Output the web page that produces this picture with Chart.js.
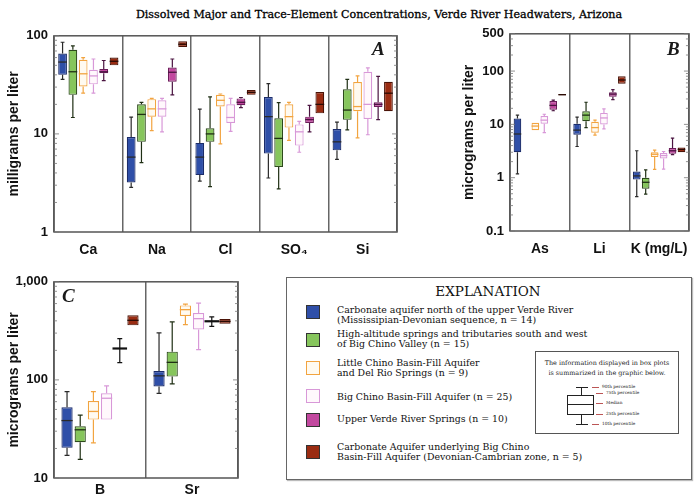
<!DOCTYPE html>
<html>
<head>
<meta charset="utf-8">
<script src="https://cdn.jsdelivr.net/npm/chart.js@4.4.1/dist/chart.umd.min.js"></script>
<style>
  body { margin: 0; width: 699px; height: 497px; background: #fff; position: relative; overflow: hidden;
         font-family: "DejaVu Serif", serif; color: #1a1a1a; }
  canvas { position: absolute; }
  .abs { position: absolute; white-space: nowrap; }
  #title { left: 0; width: 758px; top: 8px; text-align: center; font-size: 11.1px; color: #000;
           -webkit-text-stroke: 0.3px #000; }
  .panel { font-family: "Liberation Serif", serif; font-style: italic; font-weight: bold; font-size: 19px; }
  #legend { left: 286px; top: 277px; width: 404px; height: 201px; border: 1.5px solid #666;
            box-shadow: 1px 1px 1px #bbb; }
  .sq { position: absolute; left: 306px; width: 12px; height: 12px; border: 1.2px solid #333; }
  .lt { position: absolute; left: 337px; font-size: 9.4px; line-height: 10px; white-space: nowrap; color: #111; }
  #inset { left: 535px; top: 351px; width: 142px; height: 81px; border: 1px solid #555; }
  .tiny { position: absolute; font-size: 4.3px; white-space: nowrap; line-height: 6px; }
  .dash { position: absolute; height: 0; border-top: 1px solid #b55; width: 7px; }
</style>
</head>
<body>
<div id="title" class="abs">Dissolved Major and Trace-Element Concentrations, Verde River Headwaters, Arizona</div>

<canvas id="chartA" width="400" height="240" style="left:0;top:22px"></canvas>
<canvas id="chartB" width="244" height="242" style="left:455px;top:20px"></canvas>
<canvas id="chartC" width="245" height="229" style="left:0;top:268px"></canvas>

<div class="abs panel" style="left:372px;top:38px">A</div>
<div class="abs panel" style="left:667px;top:38px">B</div>
<div class="abs panel" style="left:62px;top:285px">C</div>

<div id="legend" class="abs"></div>
<div class="abs" style="left:286px;width:404px;top:283px;text-align:center;font-size:13.5px;color:#111">EXPLANATION</div>
<div id="legendItems"></div>

<div id="inset" class="abs"></div>
<div class="abs" style="left:535px;width:144px;top:358px;text-align:center;font-size:6.4px;line-height:10px;color:#222">
  The information displayed in box plots<br>is summarized in the graphic below.</div>
<div class="abs" style="left:581px;top:387px;width:0;height:37px;border-left:1px solid #222"></div>
<div class="abs" style="left:576px;top:387px;width:12px;border-top:1px solid #222"></div>
<div class="abs" style="left:576px;top:424px;width:12px;border-top:1px solid #222"></div>
<div class="abs" style="left:567px;top:395px;width:25px;height:18px;border:1px solid #222;background:#fff"></div>
<div class="abs" style="left:567px;top:404px;width:26px;border-top:1px solid #222"></div>
<div id="insetLabels"></div>

<script>
// legend groups (one box colour per group)
const groupNames = [
  "Carbonate aquifer north of the upper Verde River<br>(Mississipian-Devonian sequence, n = 14)",
  "High-altitude springs and tributaries south and west<br>of Big Chino Valley (n = 15)",
  "Little Chino Basin-Fill Aquifer<br>and Del Rio Springs (n = 9)",
  "Big Chino Basin-Fill Aquifer (n = 25)",
  "Upper Verde River Springs (n = 10)",
  "Carbonate Aquifer underlying Big Chino<br>Basin-Fill Aquifer (Devonian-Cambrian zone, n = 5)"
];
const legendTops = [305, 329, 358, 392, 414, 442];
const squareTops = [305, 333, 361, 389, 413, 445];
const fills = ["#2f4fa8", "#86c55c", "#fffaf0", "#fff8fc", "#c2489f", "#9a2c12"];
const borders = ["#1b2c6a", "#2d4a1c", "#f2a440", "#d898d8", "#6b1d5a", "#4a1307"];
const marks = ["#2a2a2a", "#1f2f14", "#f2a440", "#d898d8", "#4a1440", "#2a0a04"];

// box plot statistics: [10th, 25th, median, 75th, 90th percentile]
// Panel A, milligrams per liter
const elementsA = ["Ca", "Na", "Cl", "SO₄", "Si"];
const carbNorthA = [[36, 40, 54, 66, 86], [2.85, 3.2, 5.8, 9.3, 14.8], [3.3, 3.8, 5.8, 8.1, 17.9], [3.55, 6.3, 15, 23.8, 32.5], [5.5, 6.8, 8.3, 11.2, 13.2]];
const highAltA = [[14.7, 25, 43, 72, 79], [5.1, 8.3, 15.8, 20, 21], [2.9, 8.3, 10, 11.4, 23.8], [2.75, 4.6, 9, 14.4, 20.8], [11, 13.9, 17.5, 28.5, 36]];
const littleChinoA = [[26, 30.5, 41, 57, 60], [10.8, 15, 18, 22.6, 23], [7.9, 19, 22, 25, 25.5], [8.6, 11.6, 15, 20, 21], [9.1, 17, 19, 33.8, 39]];
const bigChinoA = [[26, 32, 39, 45, 58], [10.5, 15, 18, 22, 23], [10.6, 12.9, 14.7, 20, 23], [6.5, 7.6, 10.5, 12.5, 13.4], [9.8, 14.2, 20, 43, 47]];
const upperVerdeA = [[35, 41.5, 43, 46, 56], [25, 34, 42.5, 47.6, 58], [18.5, 19.6, 21, 23, 23.5], [10.5, 12.9, 14, 15, 19.5], [14, 18.8, 20, 21, 38.5]];
const carbDeepA = [[50, 50, 55, 60, 60], [77, 77, 82, 88, 88], [25, 25, 26.5, 28, 28], [16.2, 16.2, 20, 26.7, 26.7], [17, 17, 26, 34, 34]];
const ticksA = [1, 10, 100];
const tickLabelsA = ["1", "10", "100"];

// Panel B, micrograms per liter (K in mg/L)
const elementsB = ["As", "Li", "K (mg/L)"];
const carbNorthB = [[1.18, 3, 6.6, 12.9, 14.9], [3.85, 6.4, 7.8, 10.3, 13.7], [0.44, 0.92, 1.08, 1.3, 3.2]];
const highAltB = [null, [8.7, 11.5, 14.9, 17.6, 26], [0.49, 0.62, 0.82, 1.0, 1.4]];
const littleChinoB = [[7.8, 7.8, 9.3, 10.7, 10.7], [6.3, 7, 8.7, 11.2, 12], [1.43, 2.45, 2.75, 3.0, 3.3]];
const bigChinoB = [[7, 10.3, 12, 14.3, 15.5], [8.2, 10, 13.2, 16.4, 19.5], [1.45, 2.3, 2.6, 2.9, 3.1]];
const upperVerdeB = [[18, 18.8, 22.7, 27.5, 28.5], [29, 33, 37, 40, 45], [2.7, 2.8, 3.2, 3.6, 5.5]];
const carbDeepB = [[35, 35, 36, 37.2, 37.2], [58, 58, 68, 79.6, 79.6], [3.0, 3.0, 3.4, 3.7, 3.7]];
const ticksB = [0.1, 1, 10, 100, 500];
const tickLabelsB = ["0.1", "1", "10", "100", "500"];

// Panel C, micrograms per liter
const elementsC = ["B", "Sr"];
const carbNorthC = [[17, 20.3, 38.5, 52.7, 76], [73, 85.5, 110, 123, 301]];
const highAltC = [[15.5, 23.2, 31, 33.6, 43.8], [91, 108, 151, 194, 390]];
const littleChinoC = [[22.8, 39.4, 47.7, 61, 76], [366, 449, 520, 575, 592]];
const bigChinoC = [[39.4, 39.4, 65, 73, 87], [204, 326, 421, 481, 606]];
const upperVerdeC = [[150, 209, 209, 209, 264], [352, 396, 396, 396, 438]];
const carbDeepC = [[360, 360, 405, 456, 456], [374, 374, 395, 418, 418]];
const ticksC = [10, 100, 1000];
const tickLabelsC = ["10", "100", "1,000"];

// legend
let html = "";
groupNames.forEach((name, i) => {
  html += `<div class="sq" style="top:${squareTops[i]}px;background:${fills[i]};border-color:${i == 2 || i == 3 ? borders[i] : "#333"}"></div>`;
  html += `<div class="lt" style="top:${legendTops[i]}px">${name}</div>`;
});
document.getElementById("legendItems").innerHTML = html;

const insetNames = ["90th percentile", "75th percentile", "Median", "25th percentile", "10th percentile"];
const insetY = [387, 393, 403, 414, 424];
const insetX = [592, 596, 596, 596, 592];
let ih = "";
insetNames.forEach((n, i) => {
  ih += `<div class="dash" style="left:${insetX[i]}px;top:${insetY[i]}px"></div>`;
  ih += `<div class="tiny" style="left:${insetX[i] + 10}px;top:${insetY[i] - 3}px">${n}</div>`;
});
document.getElementById("insetLabels").innerHTML = ih;

function minorTicks(min, max) {
  let out = [];
  for (let e = Math.floor(Math.log10(min)); e <= Math.ceil(Math.log10(max)); e++) {
    for (let m = 1; m < 10; m++) {
      let v = Number((m * Math.pow(10, e)).toPrecision(3));
      if (v >= min && v <= max) out.push(v);
    }
  }
  if (!out.includes(max)) out.push(max);
  return out;
}

const boxPlugin = {
  id: "boxes",
  afterDatasetsDraw(chart) {
    const ctx = chart.ctx;
    const y = chart.scales.y;
    chart.data.datasets.forEach((ds, di) => {
      const meta = chart.getDatasetMeta(di);
      meta.data.forEach((bar, j) => {
        const s = ds.stats[j];
        if (!s) return;
        const x = bar.x, w = bar.width;
        ctx.save();
        ctx.strokeStyle = ds.markColor;
        ctx.lineWidth = 1.2;
        ctx.beginPath();
        if (s[0] < s[1]) {
          ctx.moveTo(x, y.getPixelForValue(s[1]));
          ctx.lineTo(x, y.getPixelForValue(s[0]));
          ctx.moveTo(x - w * 0.22, y.getPixelForValue(s[0]));
          ctx.lineTo(x + w * 0.22, y.getPixelForValue(s[0]));
        }
        if (s[4] > s[3]) {
          ctx.moveTo(x, y.getPixelForValue(s[3]));
          ctx.lineTo(x, y.getPixelForValue(s[4]));
          ctx.moveTo(x - w * 0.22, y.getPixelForValue(s[4]));
          ctx.lineTo(x + w * 0.22, y.getPixelForValue(s[4]));
        }
        ctx.stroke();
        ctx.beginPath();
        ctx.lineWidth = s[1] == s[3] ? 2.2 : 1.3;
        const mw = s[1] == s[3] ? w * 0.65 : w / 2;
        ctx.moveTo(x - mw, y.getPixelForValue(s[2]));
        ctx.lineTo(x + mw, y.getPixelForValue(s[2]));
        ctx.stroke();
        ctx.restore();
      });
    });
  },
  afterDraw(chart) {
    const ctx = chart.ctx, a = chart.chartArea, y = chart.scales.y;
    ctx.save();
    ctx.strokeStyle = "#555";
    ctx.lineWidth = 1.5;
    ctx.strokeRect(a.left, a.top, a.right - a.left, a.bottom - a.top);
    ctx.lineWidth = 0.8;
    ctx.strokeStyle = "#777";
    ctx.beginPath();
    y.ticks.forEach(t => {
      const py = y.getPixelForValue(t.value);
      const len = t.major ? 5 : 3;
      ctx.moveTo(a.left, py); ctx.lineTo(a.left + len, py);
      ctx.moveTo(a.right, py); ctx.lineTo(a.right - len, py);
    });
    ctx.stroke();
    ctx.restore();
  }
};

function makePanel(id, labels, series, yMin, yMax, tickVals, tickLabels, yTitle, cfg) {
  const datasets = series.map((stats, i) => ({
    data: stats.map(s => (s ? [s[1], s[3]] : null)),
    stats: stats,
    backgroundColor: (cfg.fills && cfg.fills[i]) || fills[i],
    borderColor: (cfg.borders && cfg.borders[i]) || borders[i],
    markColor: (cfg.marks && cfg.marks[i]) || marks[i],
    borderWidth: 1.2,
    borderSkipped: false,
    barPercentage: cfg.barPct,
    categoryPercentage: cfg.catPct
  }));
  new Chart(document.getElementById(id), {
    type: "bar",
    data: { labels: labels, datasets: datasets },
    plugins: [boxPlugin],
    options: {
      responsive: false,
      animation: false,
      layout: { padding: cfg.padding },
      plugins: { legend: { display: false }, tooltip: { enabled: false } },
      scales: {
        x: {
          grid: { offset: true, color: "#666", lineWidth: 1.5, drawTicks: false },
          border: { display: false },
          ticks: { color: "#111", padding: cfg.xPad, autoSkip: false, maxRotation: 0, minRotation: 0,
                   font: { family: "Liberation Sans", weight: "bold", size: 14 } },
          afterFit(scale) { scale.height = cfg.xHeight; }
        },
        y: {
          type: "logarithmic",
          min: yMin,
          max: yMax,
          grid: { display: false, drawTicks: false },
          border: { display: false },
          afterBuildTicks(scale) {
            scale.ticks = minorTicks(yMin, yMax).map(v => ({ value: v, major: tickVals.includes(v) }));
          },
          ticks: {
            autoSkip: false,
            padding: 6,
            color: "#111",
            font: { family: "Liberation Sans", weight: "bold", size: 13 },
            callback: (v) => {
              const k = tickVals.indexOf(Number(v));
              return k >= 0 ? tickLabels[k] : "";
            }
          },
          title: {
            display: true,
            text: yTitle,
            color: "#111",
            padding: { top: 6, bottom: 0 },
            font: { family: "Liberation Sans", weight: "bold", size: 14 }
          },
          afterFit(scale) { scale.width = cfg.yWidth; }
        }
      }
    }
  });
}

makePanel("chartA", elementsA,
  [carbNorthA, highAltA, littleChinoA, bigChinoA, upperVerdeA, carbDeepA],
  1, 100, ticksA, tickLabelsA, "milligrams per liter",
  { padding: { top: 11, right: 3 }, yWidth: 54, xHeight: 30, xPad: 10, barPct: 0.85, catPct: 0.9 });

makePanel("chartB", elementsB,
  [carbNorthB, highAltB, littleChinoB, bigChinoB, upperVerdeB, carbDeepB],
  0.1, 500, ticksB, tickLabelsB, "micrograms per liter",
  { padding: { top: 10, right: 9 }, yWidth: 55, xHeight: 31, xPad: 10, barPct: 0.85, catPct: 0.9,
    fills: [null, null, null, null, null, ["#111", "#9a2c12", "#9a2c12"]] });

makePanel("chartC", elementsC,
  [carbNorthC, highAltC, littleChinoC, bigChinoC, upperVerdeC, carbDeepC],
  10, 1000, ticksC, tickLabelsC, "micrograms per liter",
  { padding: { top: 12, right: 7 }, yWidth: 54, xHeight: 19, xPad: 4, barPct: 0.85, catPct: 0.86,
    marks: [null, null, null, null, "#111", null] });
</script>
</body>
</html>
